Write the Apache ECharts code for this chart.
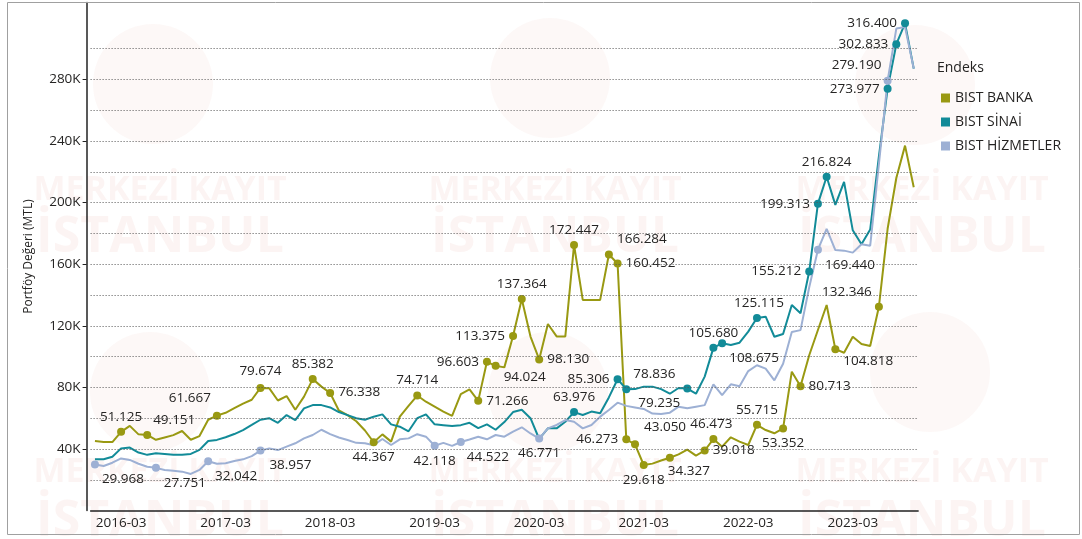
<!DOCTYPE html>
<html><head><meta charset="utf-8">
<script src="https://cdn.jsdelivr.net/npm/echarts@6/dist/echarts.min.js"></script>
<style>html,body{margin:0;padding:0;background:#fff}#c{width:1082px;height:539px}</style>
</head><body><div id="c"></div>
<script>
const categories = [
'2015-12',
'2016-01','2016-02','2016-03','2016-04','2016-05','2016-06','2016-07','2016-08','2016-09','2016-10','2016-11','2016-12',
'2017-01','2017-02','2017-03','2017-04','2017-05','2017-06','2017-07','2017-08','2017-09','2017-10','2017-11','2017-12',
'2018-01','2018-02','2018-03','2018-04','2018-05','2018-06','2018-07','2018-08','2018-09','2018-10','2018-11','2018-12',
'2019-01','2019-02','2019-03','2019-04','2019-05','2019-06','2019-07','2019-08','2019-09','2019-10','2019-11','2019-12',
'2020-01','2020-02','2020-03','2020-04','2020-05','2020-06','2020-07','2020-08','2020-09','2020-10','2020-11','2020-12',
'2021-01','2021-02','2021-03','2021-04','2021-05','2021-06','2021-07','2021-08','2021-09','2021-10','2021-11','2021-12',
'2022-01','2022-02','2022-03','2022-04','2022-05','2022-06','2022-07','2022-08','2022-09','2022-10','2022-11','2022-12',
'2023-01','2023-02','2023-03','2023-04','2023-05','2023-06','2023-07','2023-08','2023-09','2023-10'];

const bistBanka = [45.2,44.5,44.5,51.125,55.0,49.5,49.151,46.0,47.5,49.0,
51.7,46.0,48.4,59.0,61.667,63.5,66.5,69.5,72.0,79.674,
79.5,71.5,74.4,65.5,74.0,85.382,80.5,76.338,65.0,62.0,
58.0,52.0,44.367,49.5,44.8,61.0,68.0,74.714,70.7,67.5,
64.3,61.5,75.7,78.7,71.266,96.603,94.024,93.0,113.375,137.364,
113.0,98.130,121.2,113.1,113.1,172.447,136.8,136.8,136.8,166.284,
160.452,46.273,43.050,29.618,30.5,32.5,34.327,36.5,39.6,35.7,
39.018,46.473,41.5,47.6,44.8,42.6,55.715,52.3,50.2,53.352,
90.2,80.713,100.9,117.3,133.5,104.818,102.5,112.9,108.2,106.9,
132.346,183.0,216.0,237.0,210.0];

const bistSinai = [33.3,33.3,35.0,40.4,40.9,37.7,36.2,37.2,36.8,36.2,
36.2,36.8,39.4,45.2,45.9,47.6,49.7,52.3,55.6,59.0,
60.0,57.0,62.0,58.8,66.4,68.5,68.5,67.0,64.0,62.0,
60.0,59.0,61.0,62.5,56.0,54.5,51.5,60.0,62.5,56.0,
55.5,55.0,55.5,57.0,53.5,56.0,52.5,57.5,64.0,65.5,
60.0,46.5,53.4,53.4,57.7,63.976,62.1,64.3,63.2,73.5,
85.306,78.836,78.9,80.5,80.5,78.9,75.9,79.6,79.235,75.9,
87.0,105.680,108.675,107.5,109.0,116.2,125.115,125.9,112.9,114.7,
133.5,128.2,155.212,199.313,216.824,198.5,213.5,182.0,173.0,182.5,
230.0,273.977,302.833,316.400,287.0];

const bistHizmetler = [29.968,29.0,31.1,33.9,32.9,30.4,28.5,27.751,26.4,25.9,
25.3,23.8,26.4,32.042,30.4,30.7,32.2,33.3,35.4,38.957,
40.4,39.3,41.5,43.7,46.9,49.1,52.5,49.7,47.5,45.8,
44.0,43.7,42.5,46.5,42.6,46.3,46.9,49.6,48.0,42.118,
44.0,42.0,44.522,46.2,48.0,46.3,49.1,48.0,51.3,54.1,
50.1,46.771,53.4,55.6,58.8,57.7,53.4,55.6,61.0,65.3,
70.1,68.0,67.0,66.0,63.0,62.7,63.6,67.5,66.4,67.5,
68.5,82.0,75.0,82.0,80.7,90.6,94.4,92.2,84.6,95.4,
116.0,117.2,145.0,169.440,183.0,169.2,168.8,167.5,173.0,172.0,
225.0,279.190,313.0,314.0,287.0];

const bankaMarked = [3,6,14,19,25,27,32,37,44,45,46,48,49,51,55,59,60,61,62,63,66,70,71,76,79,81,85,90];
const sinaiMarked = [55,60,61,68,71,72,76,82,83,84,91,92,93];
const hizmetlerMarked = [0,7,13,19,39,42,51,83,91];

const yTickValues = [40,80,120,160,200,240,280];
const gridValues = [20,40,60,80,100,120,140,160,180,200,220,240,260,280,300];

const seriesNames = ['BIST BANKA','BIST SİNAİ','BIST HİZMETLER'];

// label placement (style only): index -> [position, dx, dy]
const placeBanka = {3:['top',0,0],6:['top',27,0],14:['top',-27,-2],19:['top',0,-2],25:['top',0,0],27:['right',0,-1],
32:['bottom',0,0],37:['top',0,0],44:['right',0,0],45:['left',0,0],46:['right',0,11],48:['left',0,0],49:['top',0,0],
51:['right',0,0],55:['top',0,0],59:['top',33,0],60:['right',0,0],61:['left',0,0],62:['top',30,-2],63:['bottom',0,0],
66:['bottom',19,-2],70:['right',0,0],71:['top',-2,0],76:['top',0,0],79:['bottom',0,0],81:['right',0,0],85:['right',0,12],90:['top',-32,0]};
const placeSinai = {55:['top',0,0],60:['left',0,0],61:['top',28,0],68:['bottom',-28,0],71:['top',0,0],72:['bottom',32,0],
76:['top',2,0],82:['left',0,0],83:['left',0,0],84:['top',0,0],91:['left',0,0],92:['left',0,0],93:['left',0,0]};
const placeHizmetler = {0:['bottom',28,0],7:['bottom',29,0],13:['bottom',28,0],19:['bottom',30,0],39:['bottom',0,0],
42:['bottom',27,0],51:['bottom',0,0],83:['bottom',32,0],91:['top',-31,0]};

const colors = ['#999912','#128b98','#9db0d4'];
const FONT = 'Open Sans';
const TXT = '#252423';

function buildData(values, marked, place) {
  return values.map((v, i) => {
    if (marked.indexOf(i) < 0) return v;
    const p = place[i] || ['top',0,0];
    return {value: v, label: {show: true, position: p[0], offset: [p[1], p[2]], distance: 4}};
  });
}
function mkSeries(name, values, marked, place, color, extra) {
  return Object.assign({
    name: name, type: 'line', data: buildData(values, marked, place),
    symbol: 'circle', showSymbol: true, showAllSymbol: true,
    symbolSize: (val, params) => marked.indexOf(params.dataIndex) >= 0 ? 8 : 0,
    lineStyle: {width: 2, color: color}, itemStyle: {color: color},
    label: {show: false, color: TXT, fontSize: 13.5, fontFamily: FONT,
      formatter: p => Number(p.value).toFixed(3)},
    emphasis: {disabled: true}, animation: false
  }, extra || {});
}

const wm = [];
const wmColor = 'rgba(215,95,80,0.07)';
[[153,84],[550,78],[915,85],[150,392],[548,392],[930,372]].forEach(c => {
  wm.push({type:'circle', z:-10, silent:true, shape:{cx:c[0], cy:c[1], r:60}, style:{fill:'rgba(215,95,80,0.045)'}});
});
[160,555,922].forEach(x => {
  wm.push({type:'text', z:-10, silent:true, x:x, y:190, style:{text:'MERKEZİ KAYIT', font:'bold 34px "Open Sans"', fill:wmColor, align:'center', verticalAlign:'middle'}});
  wm.push({type:'text', z:-10, silent:true, x:x, y:238, style:{text:'İSTANBUL', font:'bold 50px "Open Sans"', fill:wmColor, align:'center', verticalAlign:'middle'}});
  wm.push({type:'text', z:-10, silent:true, x:x, y:472, style:{text:'MERKEZİ KAYIT', font:'bold 34px "Open Sans"', fill:wmColor, align:'center', verticalAlign:'middle'}});
  wm.push({type:'text', z:-10, silent:true, x:x, y:522, style:{text:'İSTANBUL', font:'bold 50px "Open Sans"', fill:wmColor, align:'center', verticalAlign:'middle'}});
});
wm.push({type:'rect', z:100, silent:true, shape:{x:7.5, y:2.5, width:1072, height:532}, style:{fill:'none', stroke:'#a0a0a0', lineWidth:1}});

const chart = echarts.init(document.getElementById('c'), null, {renderer: 'canvas'});
chart.setOption({
  animation: false,
  color: colors,
  textStyle: {fontFamily: FONT},
  graphic: wm,
  title: {text: 'Endeks', left: 932, top: 56, textStyle: {fontSize: 14, fontWeight: 'normal', color: TXT, fontFamily: FONT}},
  legend: {
    data: seriesNames, orient: 'vertical', left: 936, top: 85, icon: 'rect', itemWidth: 9, itemHeight: 9,
    itemGap: 8, selectedMode: false, textStyle: {fontSize: 14, color: TXT, fontFamily: FONT, lineHeight: 16}
  },
  grid: {left: 90.6, right: 1082 - 918.1, top: 2.4, bottom: 28.4, containLabel: false},
  xAxis: {
    type: 'category', data: categories, boundaryGap: true,
    axisLine: {lineStyle: {color: '#222', width: 1.5}},
    axisTick: {show: false},
    axisLabel: {interval: (i) => categories[i].slice(5) === '03', color: TXT, fontSize: 13.5, fontFamily: FONT, margin: 6},
    splitLine: {show: false}
  },
  yAxis: {
    type: 'value', min: 0, max: 330, offset: 4,
    name: 'Portföy Değeri (MTL)', nameLocation: 'middle', nameGap: 52,
    nameTextStyle: {fontSize: 12, color: TXT, fontFamily: FONT},
    axisLine: {show: true, lineStyle: {color: '#222', width: 1.5}},
    axisTick: {show: true, length: 4, lineStyle: {color: '#222'}, customValues: yTickValues},
    axisLabel: {customValues: yTickValues, formatter: v => v + 'K', color: TXT, fontSize: 13.5, fontFamily: FONT, margin: 6},
    splitLine: {show: false}
  },
  series: [
    mkSeries(seriesNames[0], bistBanka, bankaMarked, placeBanka, colors[0], {
      markLine: {silent: true, symbol: 'none', animation: false, label: {show: false},
        lineStyle: {color: '#555', type: [1, 2], width: 1},
        emphasis: {disabled: true},
        data: gridValues.map(v => ({yAxis: v}))}
    }),
    mkSeries(seriesNames[1], bistSinai, sinaiMarked, placeSinai, colors[1]),
    mkSeries(seriesNames[2], bistHizmetler, hizmetlerMarked, placeHizmetler, colors[2])
  ]
});
</script>
</body></html>
